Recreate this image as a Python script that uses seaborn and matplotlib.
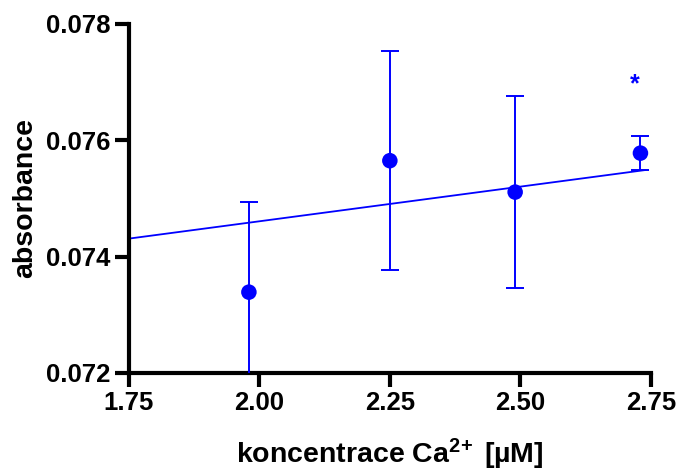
import matplotlib
matplotlib.use("Agg")
import matplotlib.pyplot as plt
import seaborn as sns
import pandas as pd

# data
conc = [1.98, 2.25, 2.49, 2.73]
absorb = [0.07339, 0.07565, 0.07511, 0.07578]
sd = [0.00155, 0.00188, 0.00165, 0.00029]
fit_x = [1.75, 2.74]
fit_y = [0.07431, 0.07549]
star_x = [2.72]
star_y = [0.07697]
x_ticks = [1.75, 2.00, 2.25, 2.50, 2.75]
y_ticks = [0.072, 0.074, 0.076, 0.078]

sns.set_style("ticks")
plt.rcParams['font.family'] = ['Liberation Sans', 'DejaVu Sans']
plt.rcParams['mathtext.fontset'] = 'custom'
plt.rcParams['mathtext.rm'] = 'Liberation Sans:bold'
plt.rcParams['mathtext.bf'] = 'Liberation Sans:bold'
plt.rcParams['mathtext.it'] = 'Liberation Sans:bold'
for k in ['text.color', 'axes.labelcolor', 'xtick.color', 'ytick.color', 'axes.edgecolor']:
    plt.rcParams[k] = 'black'

blue = "#0000FF"
fig = plt.figure(figsize=(6.78, 4.76), dpi=100)
ax = fig.add_axes([0.190, 0.2164, 0.770, 0.7332])

df = pd.DataFrame({"conc": conc, "absorb": absorb, "sd": sd})
fit = pd.DataFrame({"x": fit_x, "y": fit_y})

sns.lineplot(data=fit, x="x", y="y", color=blue, lw=1.3, ax=ax)
ax.errorbar(df["conc"], df["absorb"], yerr=df["sd"], fmt="none", ecolor=blue,
            elinewidth=1.4, capsize=6.5, capthick=1.4, zorder=3)
sns.scatterplot(data=df, x="conc", y="absorb", color=blue, s=125,
                edgecolor="none", zorder=4, ax=ax)
for sx, sy in zip(star_x, star_y):
    ax.text(sx, sy, "*", color=blue, fontsize=18, fontweight="bold",
            ha="center", va="center")

ax.set_xlim(1.75, 2.75)
ax.set_ylim(0.072, 0.078)
ax.set_xticks(x_ticks)
ax.set_xticklabels([f"{t:.2f}" for t in x_ticks])
ax.set_yticks(y_ticks)
ax.set_yticklabels([f"{t:.3f}" for t in y_ticks])
sns.despine(ax=ax)
for s in ["left", "bottom"]:
    ax.spines[s].set_linewidth(3)
ax.tick_params(width=3, length=10, labelsize=18.5, pad=3, colors="black")
for lab in ax.get_xticklabels() + ax.get_yticklabels():
    lab.set_fontweight("bold")
ax.set_xlabel(r"koncentrace Ca$^{2\!+}$ [µM]", fontsize=20.5, fontweight="bold",
              labelpad=16)
ax.set_ylabel("absorbance", fontsize=20.5, fontweight="bold", labelpad=6)

fig.savefig("out.png", dpi=100)
